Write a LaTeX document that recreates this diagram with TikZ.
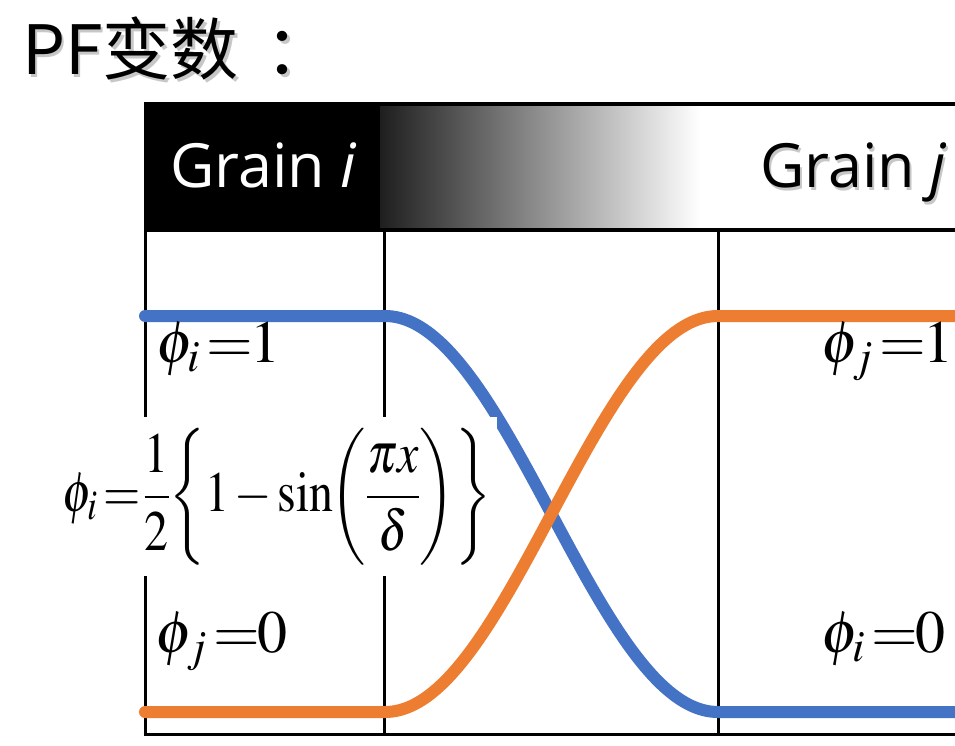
\documentclass[tikz,border=0pt]{standalone}
\usepackage{mathptmx}
\usepackage{fontspec}
\newfontfamily\cjkfont{Noto Sans CJK SC}
\newfontfamily\grainfont{Open Sans}
\definecolor{pfblue}{HTML}{4472C4}
\definecolor{pforange}{HTML}{ED7D31}
\newcommand{\pfeq}[3]{$#1_{#2}\mkern2mu{=}\mkern-1mu#3$}
\begin{document}
\begin{tikzpicture}[x=1pt,y=-1pt,
  frame/.style={line width=3pt,black},
  hdrline/.style={line width=4pt,black},
  curve/.style={line width=12pt,line cap=round},
  lbl/.style={inner sep=0pt,anchor=base west,font=\fontsize{60}{70}\selectfont},
  grain/.style={inner sep=0pt,anchor=base west,font=\grainfont\fontsize{61}{70}\selectfont},
  title/.style={inner sep=0pt,anchor=base west,font=\cjkfont\fontsize{68}{80}\selectfont}]
\useasboundingbox (0,0) rectangle (955,746);
\fill[white] (0,0) rectangle (955,746);
% coordinates
\coordinate (hTL) at (144,104);
\coordinate (hSplit) at (380,230);
\coordinate (gL) at (380,104);
\coordinate (gR) at (700,230);
% header
\shade[left color=black!88,middle color=black!42,right color=white] (gL) rectangle (gR);
\fill[black] (hTL) rectangle (hSplit);
\draw[hdrline] (144,104) -- (965,104);
\draw[hdrline] (144,230) -- (965,230);
% vertical lines and bottom
\coordinate (v1t) at (145,230); \coordinate (v1b) at (145,734);
\coordinate (v2t) at (384,230); \coordinate (v2b) at (384,734);
\coordinate (v3t) at (718,230); \coordinate (v3b) at (718,734);
\coordinate (bR) at (965,734);
\draw[frame] (v1t) -- (v1b);
\draw[frame] (v2t) -- (v2b);
\draw[frame] (v3t) -- (v3b);
\draw[frame] (143.5,734) -- (bR);
% curves
\draw[curve,pfblue] (145,316) -- (385,316) -- plot[domain=0:1,samples=90] ({385+333*\x},{514-198*cos(180*\x)}) -- (970,712);
\draw[curve,pforange] (145,712) -- (385,712) -- plot[domain=0:1,samples=90] ({385+333*\x},{514+198*cos(180*\x)}) -- (970,316);
% formula
\fill[white] (55,417) rectangle (497,576);
\node[inner sep=0pt] (formula) at (277,497)
  {\resizebox*{428pt}{137pt}{\fontsize{52}{60}\selectfont$\displaystyle \phi_i \mkern2mu{=}\mkern1mu \frac{1}{2}\mkern-2mu\left\{1\mkern2mu{-}\mkern2mu\mathrm{sin}\mkern-3mu\left(\frac{\pi x}{\delta}\right)\right\}$}};
% labels
\node[lbl] (pi1) at (156,362) {\pfeq{\phi}{i}{1}};
\node[lbl] (pj1) at (821,362) {\pfeq{\phi}{j}{1}};
\node[lbl] (pj0) at (155,652) {\pfeq{\phi}{j}{0}};
\node[lbl] (pi0) at (821,652) {\pfeq{\phi}{i}{0}};
% header texts
\node[grain,text=white] (gi) at (170,188) {Grain \textit{i}};
\node[grain,text=black!22] at (762,190.5) {Grain \textit{j}};
\node[grain,text=black] (gj) at (760,188) {Grain \textit{j}};
% title
\node[title,text=black!22] at (24.5,77.5) {PF变数\kern27pt：};
\node[title,text=black] (ttl) at (22,75) {PF变数\kern27pt：};
\end{tikzpicture}
\end{document}
